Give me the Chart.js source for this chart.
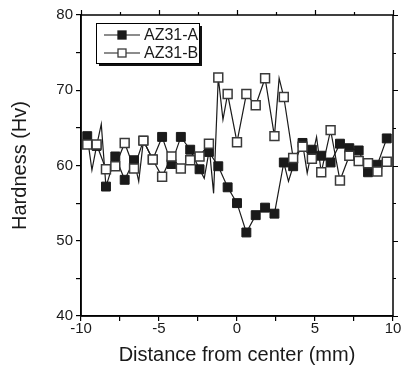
<!DOCTYPE html>
<html>
<head>
<meta charset="utf-8">
<script src="https://cdn.jsdelivr.net/npm/chart.js@4/dist/chart.umd.min.js"></script>
<style>
  html, body { margin: 0; padding: 0; background: #fff; }
  #wrap { width: 401px; height: 375px; position: relative; }
</style>
</head>
<body>
<div id="wrap"><canvas id="c" width="401" height="375"></canvas></div>
<script>
// Measurement positions (mm from weld center), one indent every 0.6 mm
const distance = [-9.6, -9.0, -8.4, -7.8, -7.2, -6.6, -6.0, -5.4, -4.8, -4.2, -3.6,
                  -3.0, -2.4, -1.8, -1.2, -0.6, 0.0, 0.6, 1.2, 1.8, 2.4, 3.0,
                  3.6, 4.2, 4.8, 5.4, 6.0, 6.6, 7.2, 7.8, 8.4, 9.0, 9.6];

// Microhardness readings (Hv)
const hardnessA = [63.9, 62.6, 57.2, 61.2, 58.1, 60.7, 63.3, 60.8, 63.8, 60.2, 63.8,
                   62.1, 59.5, 61.8, 59.9, 57.1, 55.0, 51.1, 53.4, 54.4, 53.6, 60.4,
                   59.9, 63.0, 62.1, 61.3, 60.4, 62.9, 62.3, 62.0, 59.1, 60.1, 63.6];
const hardnessB = [62.8, 62.8, 59.5, 59.9, 63.0, 59.6, 63.3, 60.8, 58.5, 61.2, 59.6,
                   60.7, 61.2, 62.9, 71.7, 69.5, 63.1, 69.5, 68.0, 71.6, 63.9, 69.1,
                   61.0, 62.5, 60.9, 59.1, 64.7, 58.0, 61.3, 60.6, 60.3, 59.2, 60.5];

// Intermediate readings joined by the trace but drawn without a symbol
const midDistA = [-9.3, -8.7, -6.3, -2.1, 3.3, 4.5];
const midHardA = [59.4, 65.5, 57.9, 58.3, 57.9, 59.0];
const midDistB = [-1.5, -0.9, 2.7, 5.1];
const midHardB = [56.3, 66.1, 71.6, 63.8];

// Axis ticks
const xMajorTicks = [-10, -5, 0, 5, 10];
const yMajorTicks = [40, 50, 60, 70, 80];

const seriesNames = ['AZ31-A', 'AZ31-B'];

function buildPoints(xs, ys, mx, my) {
  const pts = xs.map((x, i) => ({ x: x, y: ys[i], mark: true }));
  mx.forEach((x, i) => pts.push({ x: x, y: my[i], mark: false }));
  pts.sort((a, b) => a.x - b.x);
  return pts;
}

const FONT = '"Liberation Sans", Arial, sans-serif';
const INK = '#1a1a1a';

// Box frame with mirrored ticks on the top and right edges, plus axis titles
const framePlugin = {
  id: 'frame',
  afterDraw(chart) {
    const { ctx, chartArea: a, scales } = chart;
    const xs = scales.x, ys = scales.y;
    ctx.save();
    ctx.strokeStyle = '#000';
    ctx.lineWidth = 1.5;
    ctx.strokeRect(a.left, a.top, a.right - a.left, a.bottom - a.top);
    ctx.lineWidth = 1.2;
    ctx.beginPath();
    for (let v = -10; v <= 10; v += 2.5) {
      const px = Math.round(xs.getPixelForValue(v)) + 0.5;
      const len = xMajorTicks.includes(v) ? 5 : 3;
      ctx.moveTo(px, a.top); ctx.lineTo(px, a.top - len);
    }
    for (let v = 40; v <= 80; v += 5) {
      const py = Math.round(ys.getPixelForValue(v)) + 0.5;
      const len = yMajorTicks.includes(v) ? 5 : 3;
      ctx.moveTo(a.right, py); ctx.lineTo(a.right + len, py);
    }
    ctx.stroke();

    // axis titles
    ctx.fillStyle = INK;
    ctx.font = '20px ' + FONT;
    ctx.textAlign = 'center';
    ctx.textBaseline = 'middle';
    ctx.fillText('Distance from center (mm)', (a.left + a.right) / 2, 355);
    ctx.save();
    ctx.translate(20, (a.top + a.bottom) / 2);
    ctx.rotate(-Math.PI / 2);
    ctx.fillText('Hardness (Hv)', 0, 0);
    ctx.restore();

    // legend box with drop shadow
    const bx = 96, by = 23, bw = 103, bh = 40;
    ctx.fillStyle = '#111';
    ctx.fillRect(bx + 3, by + 3, bw, bh);
    ctx.fillStyle = '#fff';
    ctx.fillRect(bx, by, bw, bh);
    ctx.strokeStyle = '#000';
    ctx.lineWidth = 1;
    ctx.strokeRect(bx + 0.5, by + 0.5, bw, bh);
    const rows = [35, 53];
    chart.data.datasets.forEach((ds, i) => {
      const y = rows[i];
      ctx.strokeStyle = INK;
      ctx.lineWidth = 1.2;
      ctx.beginPath();
      ctx.moveTo(104, y); ctx.lineTo(140, y);
      ctx.stroke();
      ctx.fillStyle = ds.pointBackgroundColor;
      ctx.fillRect(118, y - 4, 8, 8);
      ctx.strokeStyle = ds.pointBorderColor;
      ctx.lineWidth = 1.3;
      ctx.strokeRect(118, y - 4, 8, 8);
      ctx.fillStyle = INK;
      ctx.font = '16px ' + FONT;
      ctx.textAlign = 'left';
      ctx.textBaseline = 'middle';
      ctx.fillText(ds.label, 144, y + 1);
    });
    ctx.restore();
  }
};

const markRadius = c => (c.raw && c.raw.mark ? 6.3 : 0);

new Chart(document.getElementById('c'), {
  type: 'scatter',
  data: {
    datasets: [
      {
        label: seriesNames[0],
        data: buildPoints(distance, hardnessA, midDistA, midHardA),
        showLine: true,
        borderColor: INK,
        borderWidth: 1.2,
        pointStyle: 'rect',
        pointRadius: markRadius,
        pointHoverRadius: markRadius,
        pointBackgroundColor: '#1a1a1a',
        pointBorderColor: '#1a1a1a',
        pointBorderWidth: 1,
        order: 1
      },
      {
        label: seriesNames[1],
        data: buildPoints(distance, hardnessB, midDistB, midHardB),
        showLine: true,
        borderColor: INK,
        borderWidth: 1.2,
        pointStyle: 'rect',
        pointRadius: markRadius,
        pointHoverRadius: markRadius,
        pointBackgroundColor: '#ffffff',
        pointBorderColor: '#3a3a3a',
        pointBorderWidth: 1.5,
        order: 0
      }
    ]
  },
  options: {
    responsive: false,
    animation: false,
    events: [],
    layout: { padding: { left: 0, right: 8, top: 15, bottom: 0 } },
    plugins: { legend: { display: false }, tooltip: { enabled: false } },
    scales: {
      x: {
        type: 'linear',
        min: -10, max: 10,
        afterFit: s => { s.height = 59; },
        afterBuildTicks: s => {
          const t = [];
          for (let v = -10; v <= 10; v += 2.5) t.push({ value: v });
          s.ticks = t;
        },
        ticks: {
          autoSkip: false,
          maxRotation: 0,
          padding: -1,
          color: INK,
          font: { family: FONT, size: 15 },
          callback: v => (xMajorTicks.includes(v) ? String(v) : '')
        },
        grid: { drawOnChartArea: false, drawTicks: true, tickLength: 5, color: '#000', lineWidth: 1.2 },
        border: { display: true, color: '#000', width: 1.5 }
      },
      y: {
        type: 'linear',
        min: 40, max: 80,
        afterFit: s => { s.width = 81; },
        afterBuildTicks: s => {
          const t = [];
          for (let v = 40; v <= 80; v += 5) t.push({ value: v });
          s.ticks = t;
        },
        ticks: {
          autoSkip: false,
          padding: 3,
          color: INK,
          font: { family: FONT, size: 15 },
          callback: v => (yMajorTicks.includes(v) ? String(v) : '')
        },
        grid: { drawOnChartArea: false, drawTicks: true, tickLength: 5, color: '#000', lineWidth: 1.2 },
        border: { display: true, color: '#000', width: 1.5 }
      }
    }
  },
  plugins: [framePlugin]
});
</script>
</body>
</html>
